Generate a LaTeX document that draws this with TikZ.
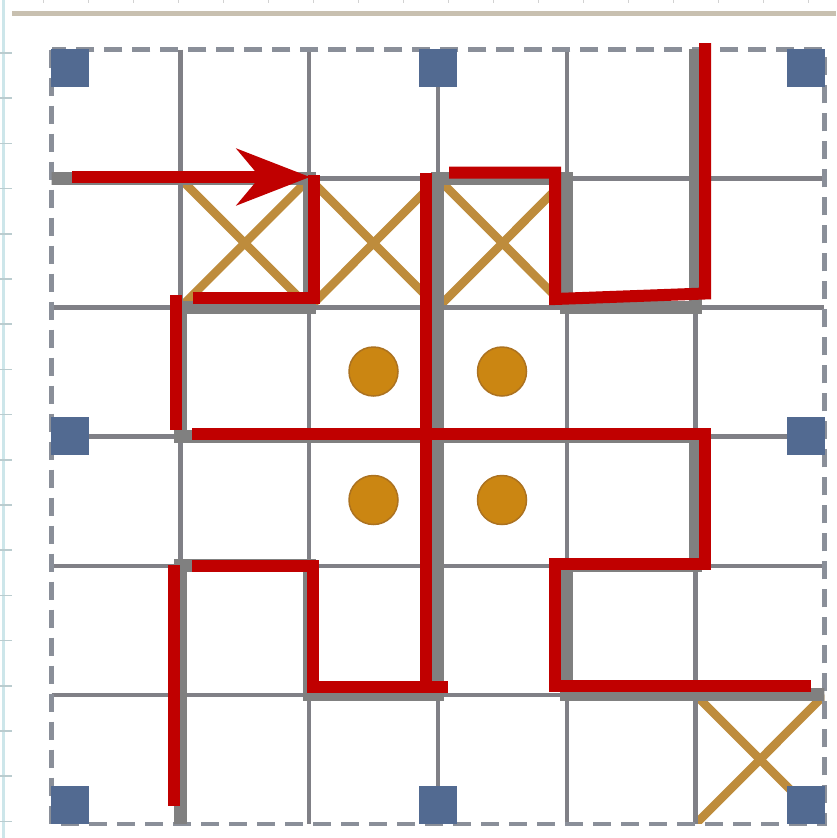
\documentclass[tikz,border=0pt]{standalone}
\usetikzlibrary{arrows.meta}
\definecolor{gridgray}{RGB}{128,128,134}
\definecolor{wallgray}{RGB}{128,128,128}
\definecolor{bordergray}{RGB}{138,143,153}
\definecolor{redline}{RGB}{192,0,0}
\definecolor{xmark}{RGB}{190,140,60}
\definecolor{dotfill}{RGB}{203,134,18}
\definecolor{dotedge}{RGB}{172,114,32}
\definecolor{sqblue}{RGB}{82,106,145}
\definecolor{rulercyan}{RGB}{205,230,234}
\definecolor{topline}{RGB}{200,192,176}
\tikzset{
  gridline/.style={draw=gridgray, line width=4.5pt},
  border/.style={draw=bordergray, line width=4.5pt, dash pattern=on 18pt off 10pt},
  wall/.style={draw=wallgray, line width=13pt, line cap=rect},
  redpath/.style={draw=redline, line width=12pt, line join=miter},
  xstroke/.style={draw=xmark, line width=8.5pt},
  dotmark/.style={circle, fill=dotfill, draw=dotedge, line width=1.5pt, minimum size=49pt, inner sep=0pt},
  sq/.style={fill=sqblue},
}
\begin{document}
\begin{tikzpicture}[x=1pt,y=-1pt]
\useasboundingbox (0,0) rectangle (836,838);
\fill[white] (0,0) rectangle (836,838);
% ruler-like frame of the screenshot
\draw[rulercyan, line width=3pt] (3,0) -- (3,838);
\foreach \k in {0,...,17} \draw[rulercyan!75!gray, line width=1.5pt] (0,{53+45.2*\k}) -- (12,{53+45.2*\k});
\foreach \k in {0,...,17} \draw[gray!35, line width=1pt] ({43+45*\k},0) -- ({43+45*\k},3);
\draw[topline, line width=5pt] (12,13) -- (836,13);
% grid points
\foreach \i in {0,...,6} \foreach \j in {0,...,6}
  \coordinate (g\i\j) at ({51.5+128.83*\i},{49.5+129.08*\j});
% X marks
\foreach \i/\j in {1/1,2/1,3/1,5/5} {
  \pgfmathtruncatemacro\ii{\i+1}
  \pgfmathtruncatemacro\jj{\j+1}
  \begin{scope}
    \clip (g\i\j) rectangle (g\ii\jj);
    \draw[xstroke] (g\i\j) -- (g\ii\jj);
    \draw[xstroke] (g\i\jj) -- (g\ii\j);
  \end{scope}
}
% thin grid
\foreach \i in {1,...,5} {
  \draw[gridline] (g\i0) -- (g\i6);
  \draw[gridline] (g0\i) -- (g6\i);
}
\draw[border] (g00) rectangle (g66);
% thick walls
\begin{scope}
  \clip (g00) rectangle (g66);
  \foreach \a/\b in {01/21,31/41,12/22,42/52,13/53,14/24,44/54,25/35,45/65,
                     12/13,14/16,21/22,24/25,31/35,41/42,44/45,50/52,53/54}
    \draw[wall] (g\a) -- (g\b);
\end{scope}
% dots
\node[dotmark] (d1) at (373.5,371.5) {};
\node[dotmark] (d2) at (502,371.5) {};
\node[dotmark] (d3) at (373.5,500) {};
\node[dotmark] (d4) at (502,500) {};
% blue squares
\foreach \x/\y in {51/49,419/49,787/49,51/417,787/417,51/786,419/786,787/786}
  \fill[sq] (\x,\y) rectangle ++(38,38);
% red lines
\coordinate (aS) at (72,177);
\coordinate (aE) at (310,177);
\draw[redpath, -{Stealth[length=73pt,width=56pt,inset=23pt]}] (aS) -- (aE);
\coordinate (p1) at (314,175);
\coordinate (p2) at (314,297.5);
\coordinate (p3) at (193,297.5);
\draw[redpath] (p1) -- (p2) -- (p3);
\coordinate (q1) at (175.5,295);
\coordinate (q2) at (175.5,430);
\draw[redpath] (q1) -- (q2);
\coordinate (r1) at (192,433.5);
\coordinate (r2) at (705,433.5);
\coordinate (r3) at (705,564);
\coordinate (r4) at (555,564);
\coordinate (r5) at (555,686);
\coordinate (r6) at (811,686);
\draw[redpath] (r1) -- (r2) -- (r3) -- (r4) -- (r5) -- (r6);
\coordinate (c1) at (426,173);
\coordinate (c2) at (426,687);
\draw[redpath] (c1) -- (c2);
\coordinate (s1) at (192,566);
\coordinate (s2) at (312.5,566);
\coordinate (s3) at (312.5,687);
\coordinate (s4) at (448,687);
\draw[redpath] (s1) -- (s2) -- (s3) -- (s4);
\coordinate (t1) at (173.5,565);
\coordinate (t2) at (173.5,806);
\draw[redpath] (t1) -- (t2);
\coordinate (u1) at (449,172.5);
\coordinate (u2) at (555,172.5);
\coordinate (u3) at (555,299);
\coordinate (u4) at (705,293.5);
\coordinate (u5) at (705,43);
\draw[redpath] (u1) -- (u2) -- (u3) -- (u4) -- (u5);
\end{tikzpicture}
\end{document}
